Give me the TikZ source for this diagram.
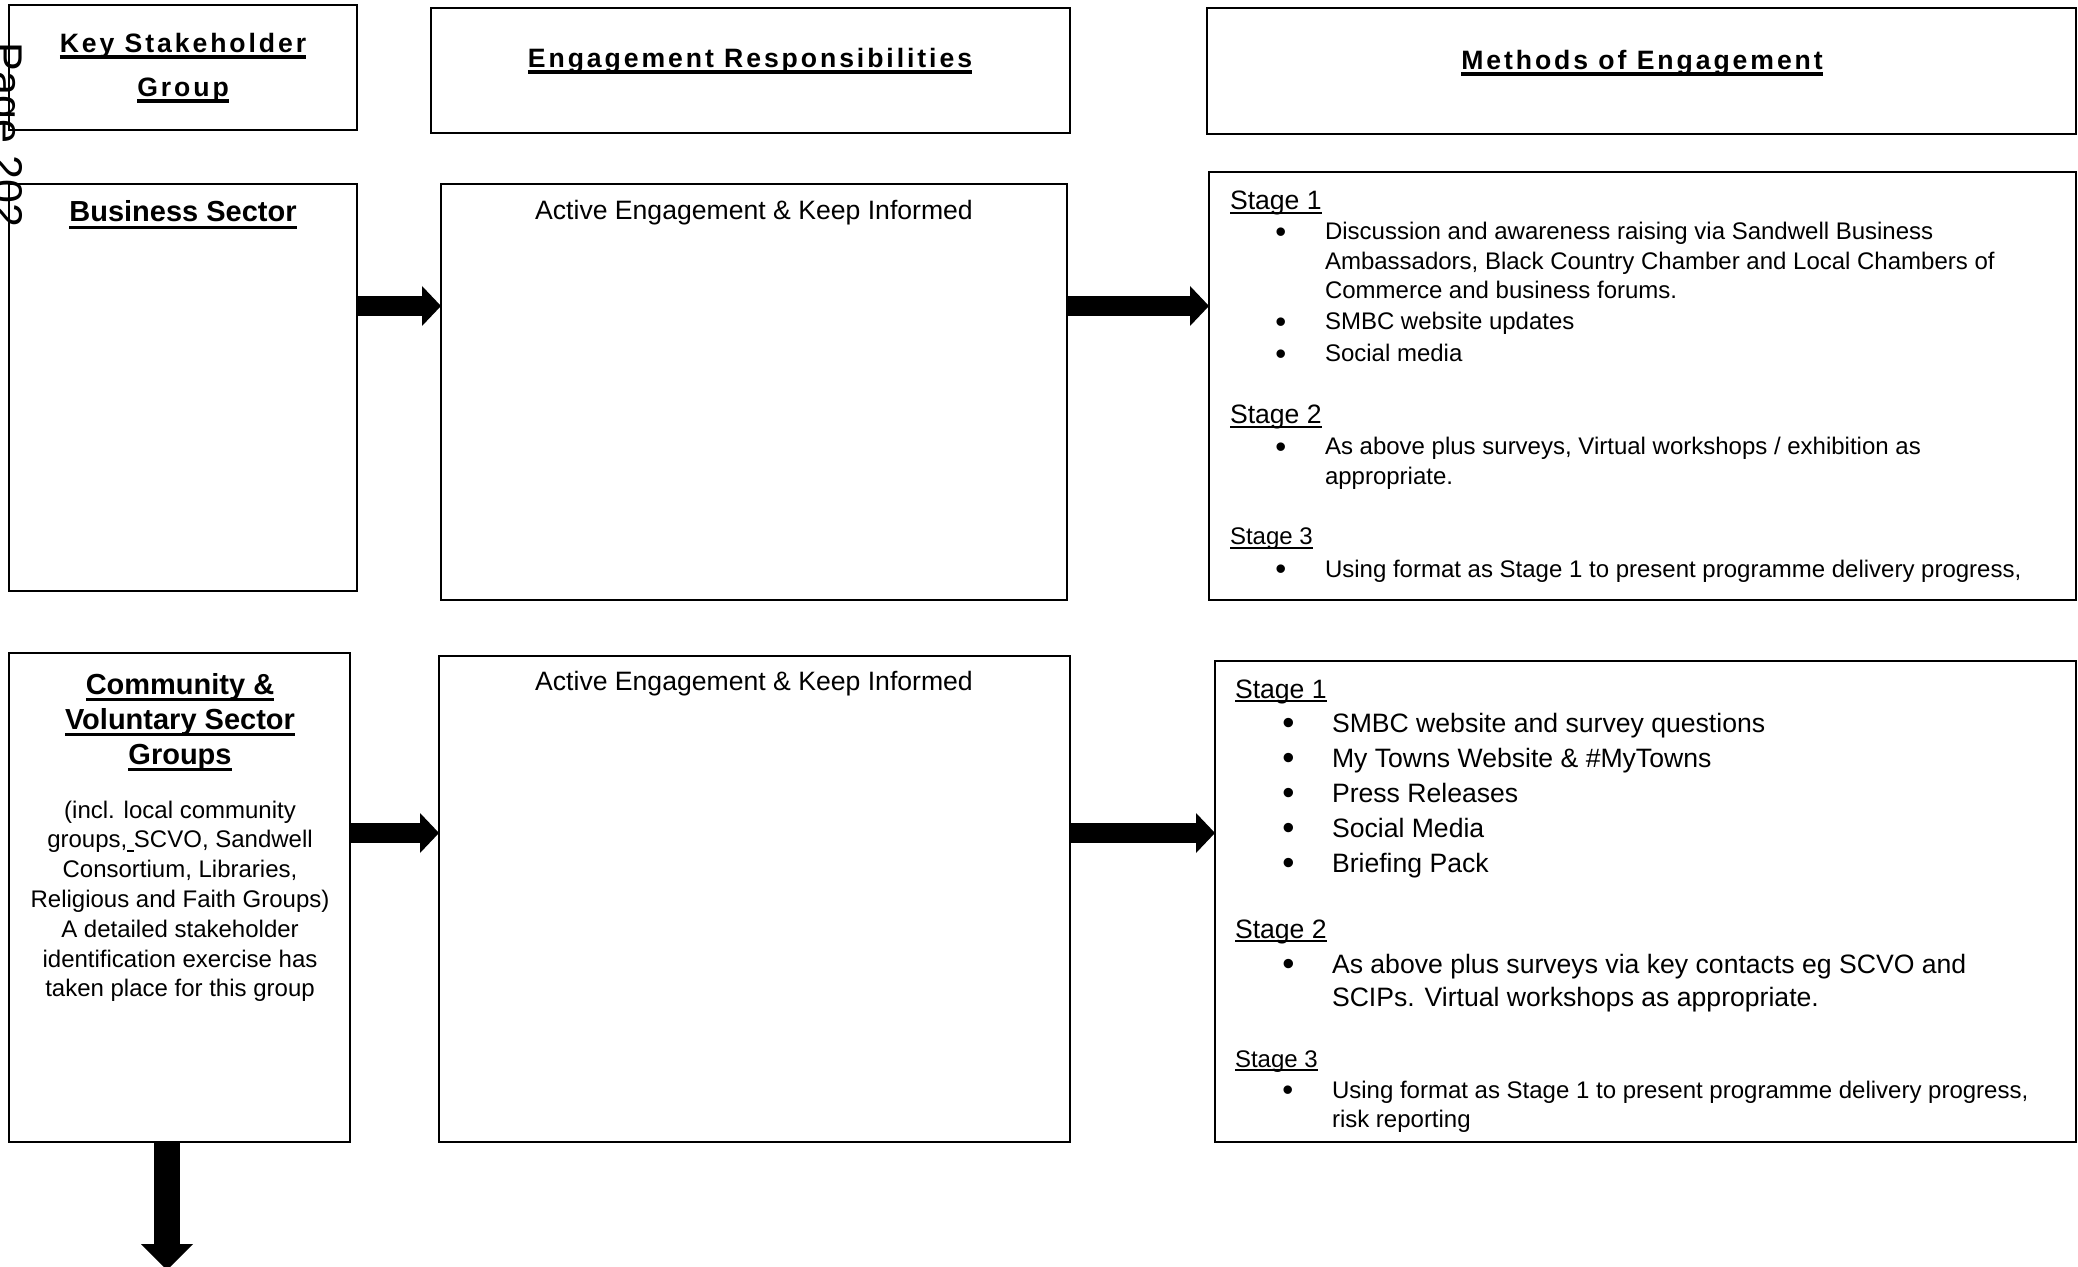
\documentclass[tikz,border=0pt]{standalone}
\usepackage{graphicx}
\usepackage{fontspec}
\setmainfont{Liberation Sans}
\newfontfamily\hdrfamily[LetterSpace=11]{Liberation Sans}
\usetikzlibrary{arrows.meta,positioning,calc,fit}
\newcommand{\ulline}[3]{\leavevmode\setbox0=\hbox{#3}\rlap{\rule[\dimexpr-#2-#1\relax]{\wd0}{#1}}\box0}
\newcommand{\ulthick}[1]{\ulline{1.6pt}{1.2pt}{#1}}
\newcommand{\ultitle}[1]{\ulline{1.6pt}{2pt}{#1}}
\newcommand{\ulthin}[1]{\ulline{0.8pt}{1.2pt}{#1}}
\newcommand{\bul}[1]{\llap{\raisebox{-0.11em}{\scalebox{1.3}{\textbullet}}\hspace{#1}}}
\tikzset{
  box/.style={draw, line width=0.8pt, inner sep=0pt, outer sep=0pt},
  txt/.style={inner sep=0pt, outer sep=0pt, anchor=base},
  hdr/.style={txt, font=\hdrfamily\bfseries\fontsize{13.3}{16}\selectfont},
  title/.style={txt, font=\bfseries\fontsize{14.5}{17}\selectfont},
  body/.style={txt, font=\fontsize{13.3}{16}\selectfont},
  small/.style={txt, font=\fontsize{12}{14}\selectfont},
  blockarrow/.style={line width=10pt, -{Triangle[length=9.5pt, width=20pt, line width=0pt]}},
  downarrow/.style={line width=13pt, -{Triangle[length=13pt, width=26pt, line width=0pt]}},
}
\begin{document}
\begin{tikzpicture}[x=0.5pt, y=-0.5pt]
  \useasboundingbox (0,0) rectangle (2078,1267);

  \node[box, fit={(9,5) (357,130)}] (hdrgroup) {};
  \node[box, fit={(431,8) (1070,133)}] (hdrresp) {};
  \node[box, fit={(1207,8) (2076,134)}] (hdrmeth) {};
  \node[hdr] (hdrgroup1) at (183,53) {\ulthick{Key Stakeholder}};
  \node[hdr] (hdrgroup2) at (183,97) {\ulthick{Group}};
  \node[hdr] (hdrresptxt) at (750,68) {\ulthick{Engagement Responsibilities}};
  \node[hdr] (hdrmethtxt) at (1642,70) {\ulthick{Methods of Engagement}};

  \node[box, fit={(9,184) (357,591)}] (biz) {};
  \node[box, fit={(441,184) (1067,600)}] (bizresp) {};
  \node[box, fit={(1209,172) (2076,600)}] (bizmeth) {};
  \node[title] (bizname) at (183,222) {\ultitle{Business Sector}};
  \node[body] (bizresptxt) at (754,220) {Active Engagement \& Keep Informed};
  \node[body, anchor=base west] (bizs1) at (1230,210) {\ulthin{Stage 1}};
  \foreach \y/\txt [count=\i] in {
      240/{\bul{19.4pt}Discussion and awareness raising via Sandwell Business},
      270/{Ambassadors, Black Country Chamber and Local Chambers of},
      299/{Commerce and business forums.},
      330/{\bul{19.4pt}SMBC website updates},
      362/{\bul{19.4pt}Social media}}
    \node[small, anchor=base west] (bizs1l\i) at (1325,\y) {\txt};
  \node[body, anchor=base west] (bizs2) at (1230,424) {\ulthin{Stage 2}};
  \node[small, anchor=base west] (bizs2l1) at (1325,455) {\bul{19.4pt}As above plus surveys, Virtual workshops / exhibition as};
  \node[small, anchor=base west] (bizs2l2) at (1325,485) {appropriate.};
  \node[small, anchor=base west] (bizs3) at (1230,545) {\ulthin{Stage 3}};
  \node[small, anchor=base west] (bizs3l1) at (1325,577) {\bul{19.4pt}Using format as Stage 1 to present programme delivery progress,};

  \node[box, fit={(9,653) (350,1142)}] (comm) {};
  \node[box, fit={(439,656) (1070,1142)}] (commresp) {};
  \node[box, fit={(1215,661) (2076,1142)}] (commmeth) {};
  \node[title] (comm1) at (180,694) {\ultitle{Community \&}};
  \node[title] (comm2) at (180,729) {\ultitle{Voluntary Sector}};
  \node[title] (comm3) at (180,764) {\ultitle{Groups}};
  \foreach \txt [count=\i] in {{(incl. local community}, {groups,\ulthin{\ }SCVO, Sandwell},
      {Consortium, Libraries,}, {Religious and Faith Groups)}, {A detailed stakeholder},
      {identification exercise has}, {taken place for this group}}
    \node[small] (commtxt\i) at (180,{818+29.8*(\i-1)}) {\txt};
  \node[body] (commresptxt) at (754,690) {Active Engagement \& Keep Informed};
  \node[body, anchor=base west] (comms1) at (1235,698) {\ulthin{Stage 1}};
  \foreach \y/\txt [count=\i] in {
      732/{SMBC website and survey questions},
      767/{My Towns Website \& \#MyTowns},
      802/{Press Releases},
      837/{Social Media},
      872/{Briefing Pack}}
    \node[body, anchor=base west] (comms1l\i) at (1332,\y) {\bul{18.8pt}\txt};
  \node[body, anchor=base west] (comms2) at (1235,938) {\ulthin{Stage 2}};
  \node[body, anchor=base west] (comms2l1) at (1332,973) {\bul{18.8pt}As above plus surveys via key contacts eg SCVO and};
  \node[body, anchor=base west] (comms2l2) at (1332,1006) {SCIPs. Virtual workshops as appropriate.};
  \node[small, anchor=base west] (comms3) at (1235,1067) {\ulthin{Stage 3}};
  \node[small, anchor=base west] (comms3l1) at (1332,1098) {\bul{19.4pt}Using format as Stage 1 to present programme delivery progress,};
  \node[small, anchor=base west] (comms3l2) at (1332,1127) {risk reporting};

  \coordinate (row1) at (0,306);
  \coordinate (row2) at (0,833);
  \coordinate (downtip) at (167,1270);
  \draw[blockarrow] (biz.east |- row1) -- (bizresp.west |- row1);
  \draw[blockarrow] (bizresp.east |- row1) -- (bizmeth.west |- row1);
  \draw[blockarrow] (comm.east |- row2) -- (commresp.west |- row2);
  \draw[blockarrow] (commresp.east |- row2) -- (commmeth.west |- row2);
  \draw[downarrow] (comm.south -| downtip) -- (downtip);

  \node[txt, anchor=base west, rotate=-90, font=\fontsize{21.5}{21.5}\selectfont] (pagenum) at (-7,43) {Page 202};
\end{tikzpicture}
\end{document}
